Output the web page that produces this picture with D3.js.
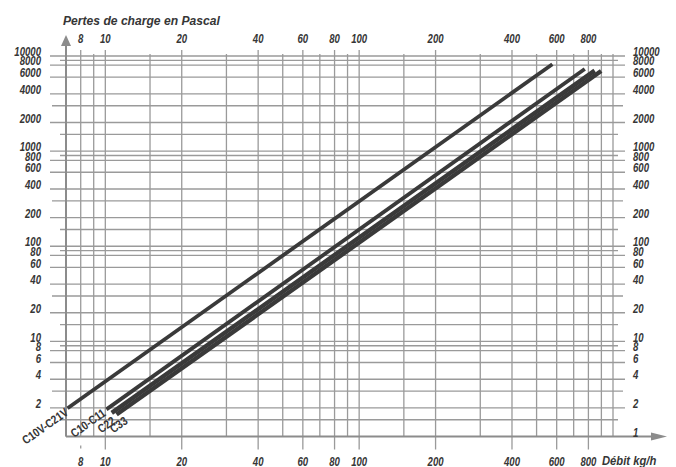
<!doctype html>
<html lang="fr">
<head>
<meta charset="utf-8">
<script src="https://cdn.jsdelivr.net/npm/d3@7/dist/d3.min.js"></script>
<style>
    body { margin: 0; background: #fff; }
    svg text { font-family: "Liberation Sans", Arial, sans-serif; font-weight: bold; fill: #363636; }
    .it { font-style: italic; }
</style>
</head>
<body>
<svg id="chart" width="676" height="467"></svg>
<script>
    // débit (kg/h), axe horizontal
    var xTicks = [8, 10, 20, 40, 60, 80, 100, 200, 400, 600, 800];
    var xGrid = [7, 8, 9, 10, 15, 20, 30, 40, 50, 60, 70, 80, 90, 100, 150, 200, 300, 400, 500, 600, 700, 800, 900, 1000];
    // pertes de charge (Pa), axe vertical
    var yTicks = [2, 4, 6, 8, 10, 20, 40, 60, 80, 100, 200, 400, 600, 800, 1000, 2000, 4000, 6000, 8000, 10000];
    var yRightTicks = [1].concat(yTicks);
    var yGrid = [1.5, 2, 3, 4, 6, 8, 9, 10, 15, 20, 30, 40, 60, 80, 90, 100, 150, 200, 300, 400, 600, 800, 900,
                 1000, 1500, 2000, 3000, 4000, 6000, 8000, 9000, 10000];
    // droites : point de départ et point d'arrivée [débit, pertes]
    var seriesNames = ["C10V-C21V", "C10-C11", "C22", "C33"];
    var seriesStart = [[7.1, 1.98], [10.1, 1.93], [10.6, 1.77], [11.07, 1.70]];
    var seriesEnd = [[577, 8200], [774, 7300], [847, 7020], [898, 6958]];

    var svg = d3.select("#chart");
    var mLeft = 66, mRight = 613, mTop = 56, mBottom = 436.5;
    var gridColor = "#9a9a9a", axisColor = "#8c8c8c", lineColor = "#3a3a3a";
    var narrow = 0.8; // écrasement horizontal du texte (police condensée)

    var x = d3.scaleLog().domain([7, 1000]).range([mLeft, mRight]);
    var y = d3.scaleLog().domain([1, 10000]).range([mBottom, mTop]);

    function mant(v) { return +(v / Math.pow(10, Math.floor(Math.log10(v) + 1e-9))).toFixed(2); }
    function tickOut(v, side) {
        var m = mant(v);
        if (m === 1.5 || m === 9) return side ? 5 : 6;
        if (m === 3) return side ? 10 : 14;
        return side ? 12 : 16;
    }
    function place(px, py, k) { return "translate(" + px + "," + py + ") scale(" + (k || narrow) + ",1)"; }

    // quadrillage horizontal
    svg.append("g").selectAll("line").data(yGrid).enter().append("line")
        .attr("x1", function(d) { return mLeft - tickOut(d, 0); })
        .attr("x2", function(d) { return mRight + tickOut(d, 1); })
        .attr("y1", function(d) { return y(d); })
        .attr("y2", function(d) { return y(d); })
        .attr("stroke", gridColor).attr("stroke-width", 1.3);

    // quadrillage vertical
    svg.append("g").selectAll("line").data(xGrid).enter().append("line")
        .attr("x1", function(d) { return x(d); })
        .attr("x2", function(d) { return x(d); })
        .attr("y1", function(d) { return xTicks.indexOf(d) >= 0 ? mTop - 6 : mTop - 2; })
        .attr("y2", function(d) { return xTicks.indexOf(d) >= 0 && d !== 8 ? mBottom + 13 : mBottom; })
        .attr("stroke", gridColor).attr("stroke-width", 1.3);
    // petite marque du 8 en bas
    svg.append("line").attr("x1", x(8)).attr("x2", x(8))
        .attr("y1", mBottom + 9).attr("y2", mBottom + 12)
        .attr("stroke", gridColor).attr("stroke-width", 1.3);

    // axes avec flèches
    svg.append("line").attr("x1", mLeft).attr("x2", mLeft).attr("y1", mBottom).attr("y2", 44)
        .attr("stroke", axisColor).attr("stroke-width", 2);
    svg.append("path").attr("d", d3.line()([[mLeft - 5, 46], [mLeft, 35], [mLeft + 5, 46]]) + "Z")
        .attr("fill", axisColor);
    svg.append("line").attr("x1", mLeft).attr("x2", 655).attr("y1", mBottom).attr("y2", mBottom)
        .attr("stroke", axisColor).attr("stroke-width", 2);
    svg.append("path").attr("d", d3.line()([[651, mBottom - 4], [667, mBottom], [651, mBottom + 4]]) + "Z")
        .attr("fill", axisColor);

    // graduations
    svg.append("g").selectAll("text").data(yTicks).enter().append("text")
        .attr("class", "it").attr("transform", function(d) { return place(41, y(d) - 3); })
        .attr("text-anchor", "end").attr("dominant-baseline", "middle")
        .style("font-size", "12px").text(function(d) { return d; });
    svg.append("g").selectAll("text").data(yRightTicks).enter().append("text")
        .attr("class", "it").attr("transform", function(d) { return place(633, y(d) - 3); })
        .attr("dominant-baseline", "middle")
        .style("font-size", "12px").text(function(d) { return d; });
    svg.append("g").selectAll("text").data(xTicks).enter().append("text")
        .attr("class", "it").attr("transform", function(d) { return place(x(d), 43); })
        .attr("text-anchor", "middle").style("font-size", "12px").text(function(d) { return d; });
    svg.append("g").selectAll("text").data(xTicks).enter().append("text")
        .attr("class", "it").attr("transform", function(d) { return place(x(d), 466); })
        .attr("text-anchor", "middle").style("font-size", "12px").text(function(d) { return d; });

    svg.append("text").attr("class", "it").attr("transform", place(63, 25, 0.97))
        .style("font-size", "12.5px").text("Pertes de charge en Pascal");
    svg.append("text").attr("class", "it").attr("transform", place(602, 465, 0.9))
        .style("font-size", "12.5px").text("Débit kg/h");

    // droites
    var series = seriesNames.map(function(n, i) { return { name: n, pts: [seriesStart[i], seriesEnd[i]] }; });
    var line = d3.line().x(function(d) { return x(d[0]); }).y(function(d) { return y(d[1]); });
    svg.append("g").selectAll("path").data(series).enter().append("path")
        .attr("d", function(d) { return line(d.pts); })
        .attr("fill", "none").attr("stroke", lineColor)
        .attr("stroke-width", function(d, i) { return i < 2 ? 3.8 : 4.4; });

    // étiquettes des droites, dans l'axe de chaque droite
    var labelShift = [[-2, 2.5], [-3, 1.5], [-2, 7.5], [5, 10.5]];
    svg.append("g").selectAll("text").data(series).enter().append("text")
        .attr("transform", function(d) {
            var x0 = x(d.pts[0][0]), y0 = y(d.pts[0][1]);
            var ang = Math.atan2(y(d.pts[1][1]) - y0, x(d.pts[1][0]) - x0) * 180 / Math.PI;
            return "translate(" + x0 + "," + y0 + ") rotate(" + ang + ") scale(0.84,1)";
        })
        .attr("dx", function(d, i) { return labelShift[i][0] / 0.84; })
        .attr("dy", function(d, i) { return labelShift[i][1]; })
        .attr("text-anchor", "end").attr("dominant-baseline", "middle")
        .style("font-size", "12px").text(function(d) { return d.name; });
</script>
</body>
</html>
